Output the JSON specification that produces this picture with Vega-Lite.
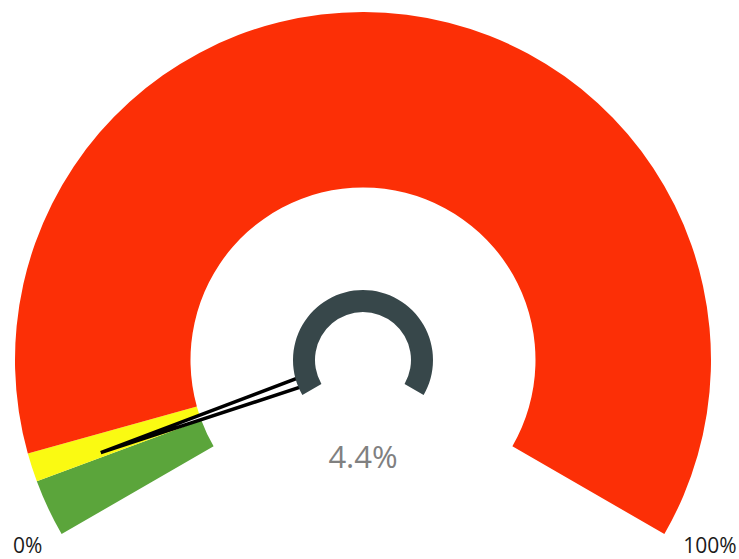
{
  "$schema": "https://vega.github.io/schema/vega-lite/v6.json",
  "width": 739,
  "height": 559,
  "padding": 0,
  "autosize": {"type": "none"},
  "config": {"view": {"stroke": null}, "font": "Open Sans"},
  "datasets": {
    "bands": [
      {"band": "green", "start": 0, "end": 4},
      {"band": "yellow", "start": 4, "end": 6},
      {"band": "red", "start": 6, "end": 100}
    ],
    "needle": [
      {"k": 0, "nx": -0.7535, "ny": -0.2659},
      {"k": 1, "nx": -0.1461, "ny": -0.0668},
      {"k": 2, "nx": -0.1557, "ny": -0.0397},
      {"k": 3, "nx": -0.7535, "ny": -0.2659}
    ],
    "ring": [{"start": 0, "end": 100}],
    "value": [{"label": "4.4%", "lx": 0, "ly": -0.3103}],
    "ends": [
      {"label": "0%", "lx": -0.9635, "ly": -0.5546},
      {"label": "100%", "lx": 0.9971, "ly": -0.5546}
    ]
  },
  "layer": [
    {
      "data": {"name": "bands"},
      "mark": {"type": "arc", "outerRadius": 348, "innerRadius": 172.5},
      "encoding": {
        "x": {"datum": 0, "type": "quantitative", "scale": {"domain": [-1.0431, 1.0805], "nice": false, "zero": false}, "axis": null},
        "y": {"datum": 0, "type": "quantitative", "scale": {"domain": [-0.5718, 1.0345], "nice": false, "zero": false}, "axis": null},
        "theta": {"field": "start", "type": "quantitative", "stack": null, "scale": {"domain": [0, 100], "range": [-2.0944, 2.0944]}},
        "theta2": {"field": "end"},
        "color": {"field": "band", "type": "nominal", "scale": {"domain": ["green", "yellow", "red"], "range": ["#5ba53b", "#fafa12", "#fc2f06"]}, "legend": null}
      }
    },
    {
      "data": {"name": "needle"},
      "mark": {"type": "line", "stroke": "black", "strokeWidth": 3.5, "fill": "white", "strokeJoin": "miter"},
      "encoding": {
        "x": {"field": "nx", "type": "quantitative", "scale": {"domain": [-1.0431, 1.0805], "nice": false, "zero": false}, "axis": null},
        "y": {"field": "ny", "type": "quantitative", "scale": {"domain": [-0.5718, 1.0345], "nice": false, "zero": false}, "axis": null},
        "order": {"field": "k", "type": "quantitative"}
      }
    },
    {
      "data": {"name": "ring"},
      "mark": {"type": "arc", "outerRadius": 70, "innerRadius": 48, "fill": "#37474a"},
      "encoding": {
        "x": {"datum": 0, "type": "quantitative", "scale": {"domain": [-1.0431, 1.0805], "nice": false, "zero": false}, "axis": null},
        "y": {"datum": 0, "type": "quantitative", "scale": {"domain": [-0.5718, 1.0345], "nice": false, "zero": false}, "axis": null},
        "theta": {"field": "start", "type": "quantitative", "stack": null, "scale": {"domain": [0, 100], "range": [-2.0944, 2.0944]}},
        "theta2": {"field": "end"}
      }
    },
    {
      "data": {"name": "value"},
      "mark": {"type": "text", "fontSize": 31, "fill": "#808080", "align": "center", "baseline": "alphabetic"},
      "encoding": {
        "x": {"field": "lx", "type": "quantitative", "scale": {"domain": [-1.0431, 1.0805], "nice": false, "zero": false}, "axis": null},
        "y": {"field": "ly", "type": "quantitative", "scale": {"domain": [-0.5718, 1.0345], "nice": false, "zero": false}, "axis": null},
        "text": {"field": "label", "type": "nominal"}
      }
    },
    {
      "data": {"name": "ends"},
      "mark": {"type": "text", "fontSize": 21, "fill": "#1a1a1a", "align": "center", "baseline": "alphabetic"},
      "encoding": {
        "x": {"field": "lx", "type": "quantitative", "scale": {"domain": [-1.0431, 1.0805], "nice": false, "zero": false}, "axis": null},
        "y": {"field": "ly", "type": "quantitative", "scale": {"domain": [-0.5718, 1.0345], "nice": false, "zero": false}, "axis": null},
        "text": {"field": "label", "type": "nominal"}
      }
    }
  ]
}
